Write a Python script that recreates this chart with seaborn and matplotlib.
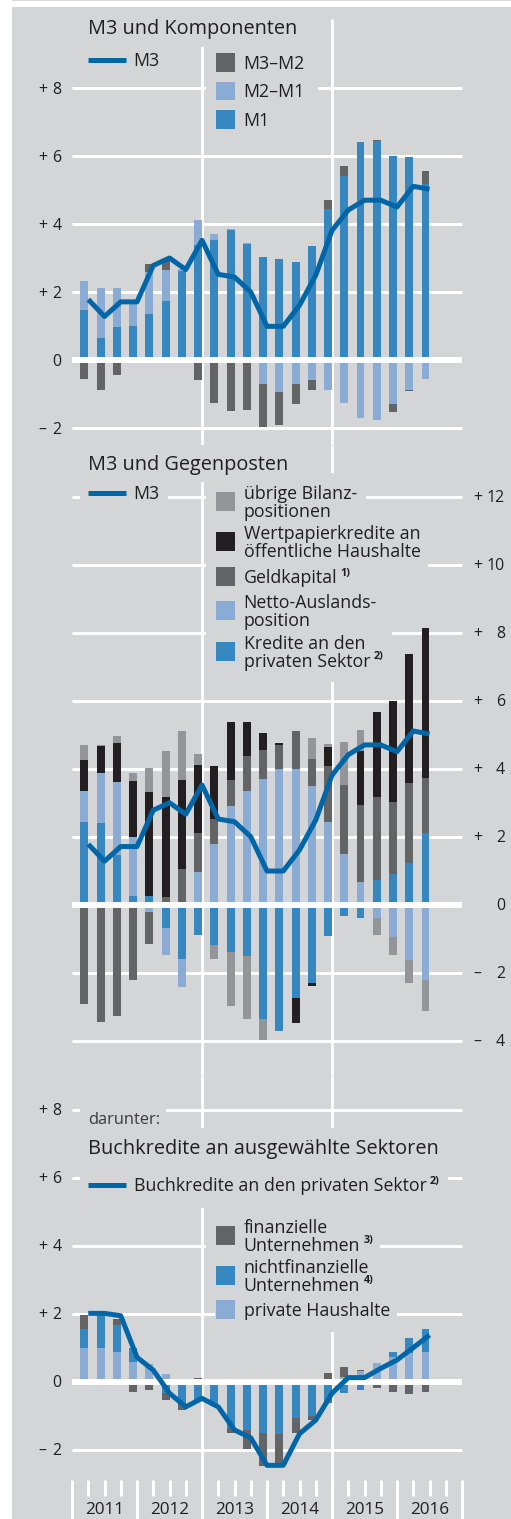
import numpy as np
import matplotlib
matplotlib.use("Agg")
import matplotlib.pyplot as plt
import matplotlib.transforms as mtransforms
from matplotlib.patches import Rectangle
from matplotlib.lines import Line2D
import seaborn as sns

# ---------------- data (quarterly, 2011 Q1 - 2016 Q2) ----------------
quarters = ["2011Q1", "2011Q2", "2011Q3", "2011Q4", "2012Q1", "2012Q2", "2012Q3", "2012Q4",
            "2013Q1", "2013Q2", "2013Q3", "2013Q4", "2014Q1", "2014Q2", "2014Q3", "2014Q4",
            "2015Q1", "2015Q2", "2015Q3", "2015Q4", "2016Q1", "2016Q2"]
years = ["2011", "2012", "2013", "2014", "2015", "2016"]

# Panel 1: M3 und Komponenten
m1 = [1.46, 0.66, 0.97, 0.99, 1.34, 1.75, 2.62, 3.37, 3.54, 3.83, 3.42, 3.02, 2.96, 2.89,
      3.34, 4.45, 5.40, 6.42, 6.45, 6.01, 5.98, 5.17]
m2_m1 = [0.85, 1.47, 1.16, 0.71, 1.25, 0.90, 0.05, 0.74, 0.18, 0.03, 0.02, -0.72, -0.95, -0.72,
         -0.60, -0.89, -1.26, -1.70, -1.75, -1.28, -0.87, -0.55]
m3_m2 = [-0.55, -0.87, -0.45, 0.0, 0.24, 0.30, 0.0, -0.58, -1.25, -1.50, -1.48, -1.25, -0.97, -0.58,
         -0.27, 0.25, 0.32, 0.0, 0.03, -0.25, -0.04, 0.38]
m3 = [1.78, 1.28, 1.71, 1.71, 2.78, 3.00, 2.66, 3.52, 2.52, 2.44, 2.00, 0.99, 0.99, 1.61,
      2.49, 3.81, 4.41, 4.70, 4.70, 4.50, 5.11, 5.02]

# Panel 2: M3 und Gegenposten
kredite_privat = [2.44, 2.39, 1.45, 0.26, 0.26, -0.69, -1.60, -0.88, -1.19, -1.39, -1.50, -3.36,
                  -3.70, -2.75, -2.30, -0.91, -0.32, -0.38, 0.73, 0.91, 1.23, 2.11]
netto_ausland = [0.91, 1.47, 2.17, 1.74, -0.20, -0.80, -0.81, 0.97, 1.78, 2.90, 3.35, 3.71,
                 3.98, 3.98, 3.49, 2.43, 1.50, 0.68, -0.38, -0.96, -1.63, -2.21]
geldkapital = [-2.91, -3.45, -3.27, -2.20, -0.97, 0.22, 1.05, 1.14, 0.75, 0.77, 1.01, 0.83,
               0.72, 1.12, 0.80, 1.66, 2.01, 2.24, 2.45, 2.11, 2.35, 1.63]
wertpapierkredite = [0.92, 0.81, 1.14, 1.63, 3.05, 2.96, 2.62, 1.99, 1.55, 1.69, 1.00, 0.50,
                     0.05, -0.72, -0.08, 0.56, 0.0, 1.60, 2.49, 2.96, 3.79, 4.39]
uebrige = [0.44, 0.04, 0.20, 0.23, 0.70, 1.33, 1.45, 0.32, -0.42, -1.58, -1.86, -0.62,
           0.0, 0.0, 0.60, 0.09, 1.28, 0.62, -0.52, -0.51, -0.67, -0.91]

# Panel 3: Buchkredite an ausgewählte Sektoren
haushalte = [1.00, 1.00, 0.86, 0.57, 0.52, 0.23, 0.0, 0.0, -0.07, -0.10, -0.05, -0.07,
             0.0, 0.0, 0.0, 0.0, 0.13, 0.31, 0.54, 0.72, 0.83, 0.88]
nichtfinanzielle = [0.54, 0.95, 0.81, 0.41, 0.0, -0.32, -0.64, -0.54, -0.65, -1.27, -1.37, -1.43,
                    -1.55, -1.06, -1.00, -0.62, -0.33, -0.23, 0.0, 0.14, 0.45, 0.66]
finanzielle = [0.42, 0.06, 0.17, -0.31, -0.24, -0.22, -0.19, 0.10, 0.0, -0.13, -0.55, -0.99,
               -0.90, -0.45, -0.13, 0.27, 0.30, 0.04, -0.18, -0.29, -0.36, -0.31]
buchkredite = [2.01, 2.01, 1.94, 0.72, 0.34, -0.34, -0.74, -0.49, -0.74, -1.42, -1.65, -2.46,
               -2.46, -1.53, -1.13, -0.34, 0.12, 0.12, 0.39, 0.64, 1.00, 1.37]

top_ticks = [8, 6, 4, 2, 0, -2]
mid_ticks = [12, 10, 8, 6, 4, 2, 0, -2, -4]
bot_ticks = [8, 6, 4, 2, 0, -2]

# ---------------- style ----------------
BG = "#d4d5d7"
BLUE = "#3686bf"
LIGHT = "#8aabd3"
DARK = "#636466"
BLACK = "#231f20"
MID = "#939598"
LINE = "#0066a8"
TXT = "#1f1f1f"

sns.set_style("white")
plt.rcParams["font.family"] = ["Open Sans", "DejaVu Sans"]

W, H = 511, 1519
fig = plt.figure(figsize=(W / 100, H / 100), dpi=100)
fig.patch.set_facecolor("white")
PX = mtransforms.Affine2D().scale(1.0 / W, -1.0 / H).translate(0, 1) + fig.transFigure

fig.add_artist(Rectangle((12, 7), W - 12, H - 7, transform=PX, facecolor=BG,
                         edgecolor="none", zorder=-10))
fig.add_artist(Rectangle((12, 0), W - 12, 1.3, transform=PX, facecolor="#dadadc",
                         edgecolor="none", zorder=-10))

X0, QW, UNIT = 72.0, 16.25, 34.0
n = len(quarters)
idx = np.arange(n)
bar_x = idx + 0.755
line_x = idx + 1.0
BAR_W = 0.49


def add_panel(top, bottom, zero):
    ax = fig.add_axes([12 / W, 1 - bottom / H, (W - 12) / W, (bottom - top) / H])
    ax.set_xlim((12 - X0) / QW, (W - X0) / QW)
    ax.set_ylim((zero - bottom) / UNIT, (zero - top) / UNIT)
    ax.set_axis_off()
    return ax


def stacked(ax, series, colors):
    pos = np.zeros(n)
    neg = np.zeros(n)
    for vals, c in zip(series, colors):
        v = np.asarray(vals, float)
        base = np.where(v >= 0, pos, neg)
        ax.bar(bar_x, v, BAR_W, bottom=base, color=c, linewidth=0, zorder=2)
        pos = pos + np.clip(v, 0, None)
        neg = neg + np.clip(v, None, 0)


def grid(ax, ticks):
    nz = [t for t in ticks if t != 0]
    ax.hlines(nz, 0, 24, colors="white", lw=2.1, zorder=0.5)
    ax.hlines([0], 0, 24, colors="white", lw=4.3, zorder=3)


def mask(ax, zero, x0, y0, x1, y1):
    ax.add_patch(Rectangle(((x0 - X0) / QW, (zero - y1) / UNIT), (x1 - x0) / QW,
                           (y1 - y0) / UNIT, facecolor=BG, edgecolor="none", zorder=1))


def mline(ax, y):
    sns.lineplot(x=line_x, y=y, ax=ax, color=LINE, lw=3.6, zorder=4, legend=False,
                 errorbar=None, solid_joinstyle="round", solid_capstyle="butt")


renderer = fig.canvas.get_renderer()


def txt(x, base, s, size=12.8, sup=None, color=TXT):
    t = fig.text(x, base, s, transform=PX, ha="left", va="baseline", fontsize=size, color=color)
    if sup:
        bb = t.get_window_extent(renderer)
        xend = bb.x1 * W / fig.bbox.width
        fig.text(xend + 3.5, base - 7.5, sup, transform=PX, ha="left", va="baseline",
                 fontsize=7.8, fontweight="bold", color=color)
    return t


def patch_item(center, color, lines, sup=None):
    fig.add_artist(Rectangle((216, center - 9.3), 18.7, 18.6, transform=PX,
                             facecolor=color, edgecolor="none", zorder=5))
    if len(lines) == 1:
        txt(243.5, center + 6.35, lines[0], sup=sup)
    else:
        b1 = center - 2.5
        txt(243.5, b1, lines[0])
        txt(243.5, b1 + 17.7, lines[1], sup=sup)


def line_item(y, label, sup=None):
    fig.add_artist(Line2D([88, 126], [y, y], transform=PX, color=LINE, lw=3.6,
                          solid_capstyle="butt", zorder=5))
    txt(133.5, y + 6.35, label, sup=sup)


def left_labels(zero, ticks):
    for t in ticks:
        base = zero - t * UNIT + 5.6
        fig.text(61.5, base, str(abs(t)), transform=PX, ha="right", va="baseline",
                 fontsize=11.4, color=TXT)
        if t != 0:
            fig.text(38, base, "+" if t > 0 else "–", transform=PX, ha="left",
                     va="baseline", fontsize=11.4, color=TXT)


def right_labels(zero, ticks):
    for t in ticks:
        base = zero - t * UNIT + 5.6
        fig.text(505, base, str(abs(t)), transform=PX, ha="right", va="baseline",
                 fontsize=11.4, color=TXT)
        if t != 0:
            fig.text(473, base, "+" if t > 0 else "–", transform=PX, ha="left",
                     va="baseline", fontsize=11.4, color=TXT)


# ---------------- panel 1 ----------------
Z1 = 360.0
ax1 = add_panel(7, 445, Z1)
grid(ax1, top_ticks)
ax1.vlines([8, 16], ax1.get_ylim()[0], (Z1 - 19) / UNIT, colors="white", lw=2.0, zorder=0.5)
stacked(ax1, [m1, m2_m1, m3_m2], [BLUE, LIGHT, DARK])
mline(ax1, m3)
mask(ax1, Z1, 80, 7, 312, 47)
mask(ax1, Z1, 206, 44, 318, 138)
left_labels(Z1, top_ticks)
txt(88.5, 34.3, "M3 und Komponenten", size=14.3)
line_item(60, "M3")
patch_item(62.5, DARK, ["M3–M2"])
patch_item(91.0, LIGHT, ["M2–M1"])
patch_item(119.5, BLUE, ["M1"])

# ---------------- panel 2 ----------------
Z2 = 904.7
ax2 = add_panel(445, 1075, Z2)
grid(ax2, mid_ticks)
ax2.vlines([8, 16], *ax2.get_ylim(), colors="white", lw=2.0, zorder=0.5)
stacked(ax2, [kredite_privat, netto_ausland, geldkapital, wertpapierkredite, uebrige],
        [BLUE, LIGHT, DARK, BLACK, MID])
mline(ax2, m3)
mask(ax2, Z2, 80, 445, 300, 482)
mask(ax2, Z2, 80, 482, 168, 505)
mask(ax2, Z2, 206, 473, 366, 521)
mask(ax2, Z2, 206, 520, 428, 567)
mask(ax2, Z2, 206, 566, 360, 590)
mask(ax2, Z2, 206, 589, 374, 634)
mask(ax2, Z2, 206, 630, 392, 682)
right_labels(Z2, mid_ticks)
txt(88.3, 470, "M3 und Gegenposten", size=14.3)
line_item(492.7, "M3")
patch_item(501.7, MID, ["übrige Bilanz-", "positionen"])
patch_item(541.5, BLACK, ["Wertpapierkredite an", "öffentliche Haushalte"])
patch_item(576.7, DARK, ["Geldkapital"], sup="1)")
patch_item(610.5, LIGHT, ["Netto-Auslands-", "position"])
patch_item(651.5, BLUE, ["Kredite an den", "privaten Sektor"], sup="2)")

# ---------------- panel 3 ----------------
Z3 = 1381.7
ax3 = add_panel(1075, 1519, Z3)
grid(ax3, bot_ticks)
ylo3 = ax3.get_ylim()[0]
ax3.vlines([8, 16], ylo3, ax3.get_ylim()[1], colors="white", lw=2.0, zorder=0.5)
qpos = np.arange(0, 25)
ax3.vlines([q for q in qpos if q % 4], (Z3 - 1480) / UNIT, (Z3 - 1496) / UNIT,
           colors="white", lw=2.1, zorder=0.5)
ax3.vlines([q for q in qpos if q % 4 == 0], ylo3, (Z3 - 1480) / UNIT,
           colors="white", lw=2.1, zorder=0.5)
stacked(ax3, [haushalte, nichtfinanzielle, finanzielle], [LIGHT, BLUE, DARK])
mline(ax3, buchkredite)
mask(ax3, Z3, 80, 1100, 166, 1129)
mask(ax3, Z3, 80, 1128, 452, 1166)
mask(ax3, Z3, 80, 1165, 448, 1208)
mask(ax3, Z3, 206, 1207, 380, 1258)
mask(ax3, Z3, 206, 1256, 380, 1298)
mask(ax3, Z3, 215, 1296, 397, 1332)
for i, yr in enumerate(years):
    ax3.text(4 * i + 2, (Z3 - 1514.5) / UNIT, yr, ha="center", va="baseline",
             fontsize=12.3, color=TXT, zorder=5, clip_on=False)
left_labels(Z3, bot_ticks)
txt(88.3, 1124.3, "darunter:", size=11.8, color="#3a3a3a")
txt(88.3, 1154, "Buchkredite an ausgewählte Sektoren", size=14.3)
line_item(1185, "Buchkredite an den privaten Sektor", sup="2)")
patch_item(1235.5, DARK, ["finanzielle", "Unternehmen"], sup="3)")
patch_item(1275.5, BLUE, ["nichtfinanzielle", "Unternehmen"], sup="4)")
patch_item(1309.5, LIGHT, ["private Haushalte"])

fig.savefig("out.png", dpi=100)
